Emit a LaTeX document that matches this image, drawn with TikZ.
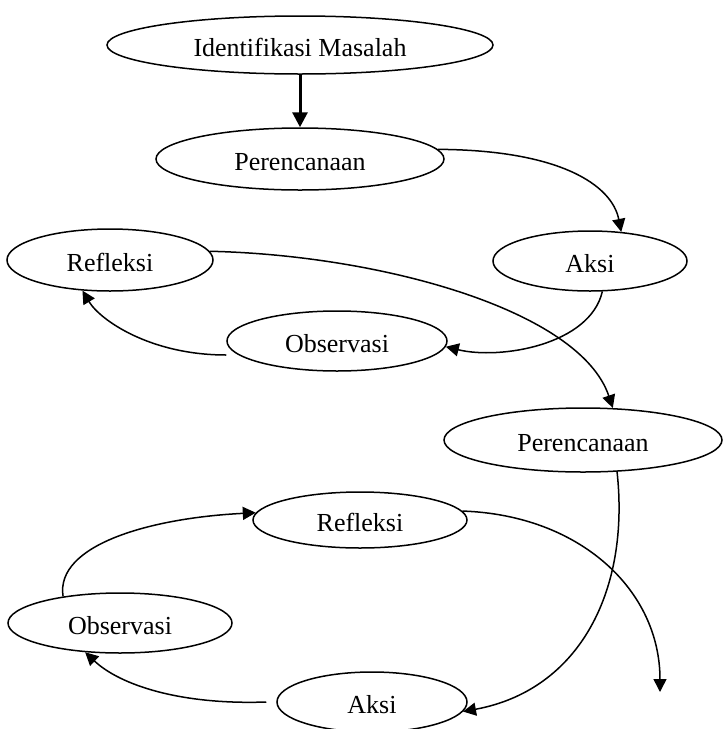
\documentclass[tikz,border=0pt]{standalone}
\usepackage{fontspec}
\setmainfont{Liberation Serif}
\usetikzlibrary{arrows.meta, shapes.geometric}

\begin{document}
\begin{tikzpicture}[x=0.5pt,y=-0.5pt,
    tahap/.style={draw, ellipse, line width=0.75pt, inner sep=0pt,
        text height=11pt, text depth=0pt, font=\fontsize{13}{15}\selectfont},
    panah/.style={-{Triangle[length=6.5pt,width=6.5pt]}, line width=0.75pt}]
    \useasboundingbox (0,0) rectangle (723,729);

    \node[tahap, minimum width=193pt, minimum height=29pt] (idm) at (300,45) {Identifikasi Masalah};
    \node[tahap, minimum width=144pt, minimum height=31pt] (per1) at (300,159) {Perencanaan};
    \node[tahap, minimum width=97pt, minimum height=30pt] (aksi1) at (590,261) {Aksi};
    \node[tahap, minimum width=103pt, minimum height=31pt] (ref1) at (110,260) {Refleksi};
    \node[tahap, minimum width=110pt, minimum height=30pt] (obs1) at (337,341) {Observasi};
    \node[tahap, minimum width=139pt, minimum height=32pt] (per2) at (583,440) {Perencanaan};
    \node[tahap, minimum width=107pt, minimum height=28pt] (ref2) at (360,520) {Refleksi};
    \node[tahap, minimum width=112pt, minimum height=30pt] (obs2) at (120,623) {Observasi};
    \node[tahap, minimum width=95pt, minimum height=30pt] (aksi2) at (372,702) {Aksi};
    \coordinate (akhir) at (660,692);

    \draw[-{Triangle[length=7.5pt,width=7.5pt]}, line width=1.5pt] (idm.south) -- (per1.north);

    \draw[panah] (per1.4) .. controls (560,150) and (612,185) .. (aksi1.43);
    \draw[panah] (aksi1.-68) .. controls (590,345) and (500,360) .. (obs1.-3);
    \draw[panah] ([yshift=-7pt]obs1.west) .. controls (150,355) and (100,320) .. (ref1.228);
    \draw[panah] (ref1.5) .. controls (380,255) and (580,310) .. (per2.47);

    \draw[panah] (per2.-43) .. controls (630,590) and (580,690) .. (aksi2.-6);
    \draw[panah] ([xshift=-5pt]aksi2.west) .. controls (180,705) and (120,685) .. (obs2.220);
    \draw[panah] (obs2.155) .. controls (55,545) and (150,518) .. (ref2.176);
    \draw[panah] (ref2.5) .. controls (580,515) and (660,590) .. (akhir);
\end{tikzpicture}
\end{document}
